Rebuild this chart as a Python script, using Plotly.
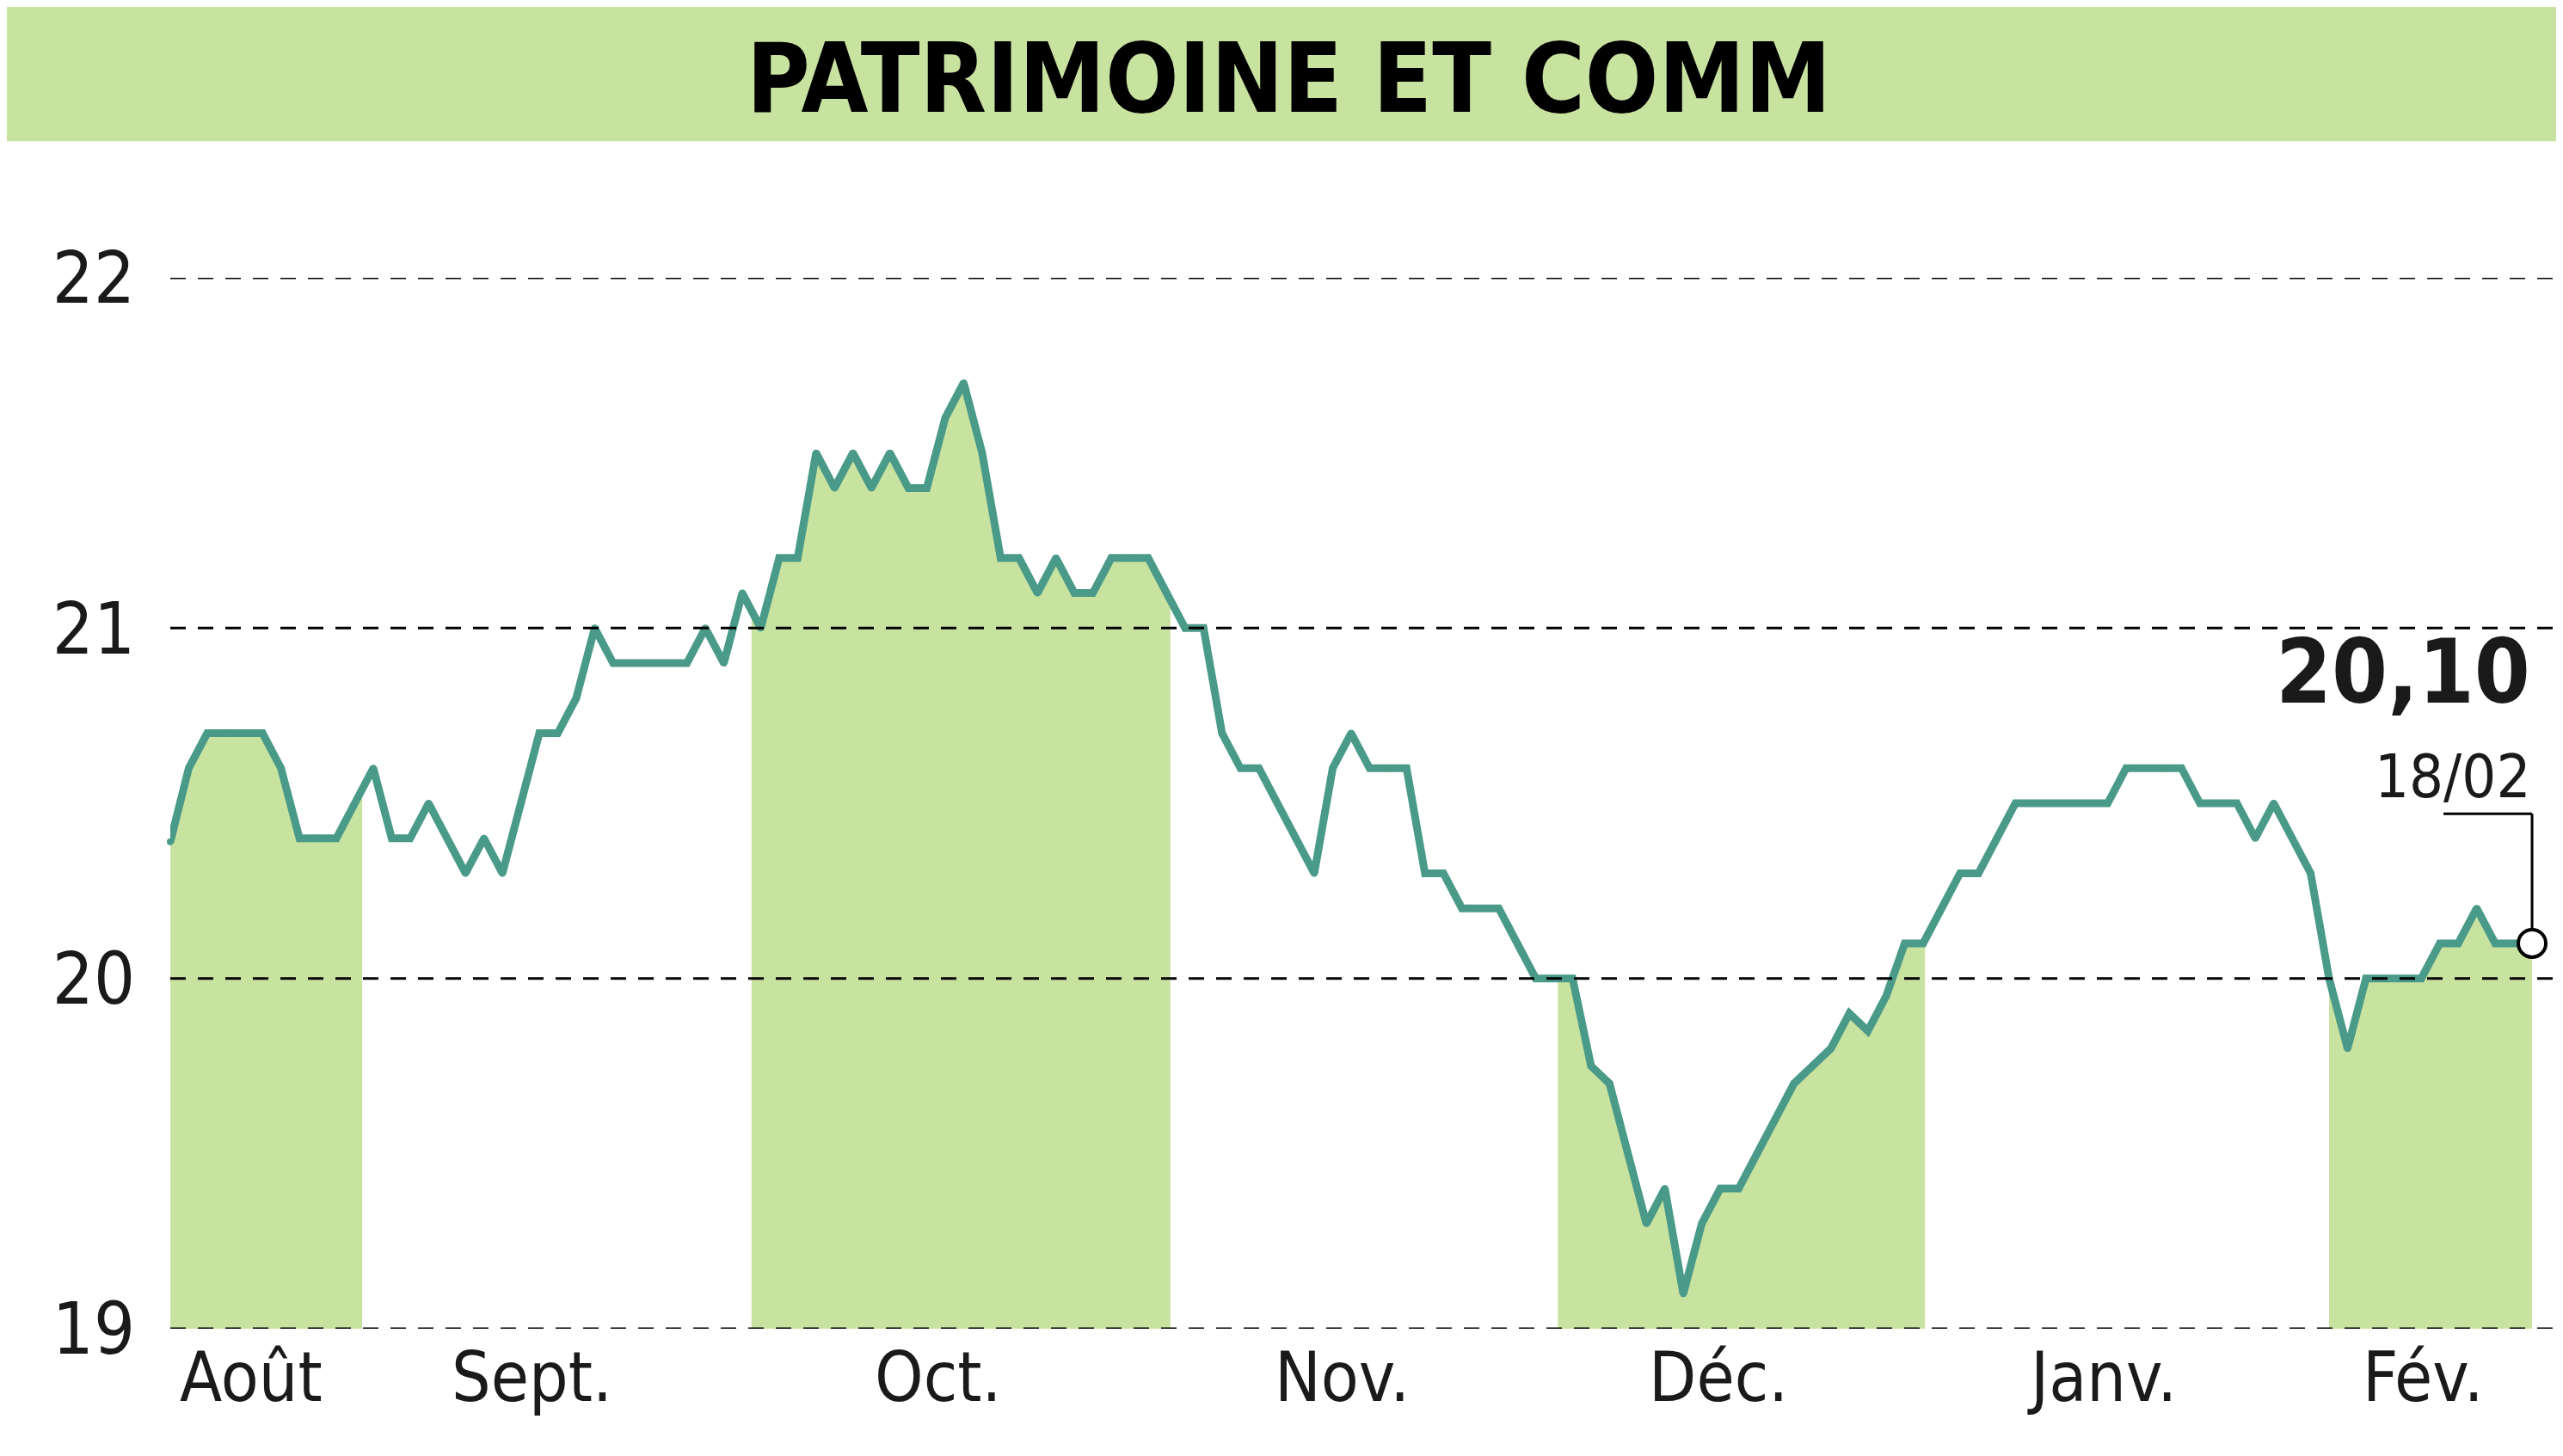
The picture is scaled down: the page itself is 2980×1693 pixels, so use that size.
import numpy as np
import plotly.graph_objects as go

title = "PATRIMOINE ET COMM"
values = [20.39,20.6,20.7,20.7,20.7,20.7,20.6,20.4,20.4,20.4,
          20.5,20.6,20.4,20.4,20.5,20.4,20.3,20.4,20.3,20.5,
          20.7,20.7,20.8,21.0,20.9,20.9,20.9,20.9,20.9,21.0,
          20.9,21.1,21.0,21.2,21.2,21.5,21.4,21.5,21.4,21.5,
          21.4,21.4,21.6,21.7,21.5,21.2,21.2,21.1,21.2,21.1,
          21.1,21.2,21.2,21.2,21.1,21.0,21.0,20.7,20.6,20.6,
          20.5,20.4,20.3,20.6,20.7,20.6,20.6,20.6,20.3,20.3,
          20.2,20.2,20.2,20.1,20.0,20.0,20.0,19.75,19.7,19.5,
          19.3,19.4,19.1,19.3,19.4,19.4,19.5,19.6,19.7,19.75,
          19.8,19.9,19.85,19.95,20.1,20.1,20.2,20.3,20.3,20.4,
          20.5,20.5,20.5,20.5,20.5,20.5,20.6,20.6,20.6,20.6,
          20.5,20.5,20.5,20.4,20.5,20.4,20.3,20.0,19.8,20.0,
          20.0,20.0,20.0,20.1,20.1,20.2,20.1,20.1,20.1]
month_labels = ["Août", "Sept.", "Oct.", "Nov.", "Déc.", "Janv.", "Fév."]
month_label_pos = [4.4, 19.6, 41.6, 63.5, 83.9, 104.7, 122.1]
month_bounds = [0, 10.4, 31.5, 54.2, 75.2, 95.1, 117.0, 128]
y_ticks = [19, 20, 21, 22]
last_label = "20,10"
last_date = "18/02"

x = np.arange(len(values))
y = np.array(values)
GREEN = "#c8e2a0"
LINE = "#4a9a8a"
FONT = "Liberation Sans Narrow, DejaVu Sans Condensed, Roboto Condensed, Arial Narrow, DejaVu Sans, sans-serif"

fig = go.Figure()
for i in range(0, len(month_bounds) - 1, 2):
    a, b = month_bounds[i], month_bounds[i + 1]
    inner = x[(x > a) & (x < b)]
    bx = np.concatenate([[a], inner, [b]])
    by = np.interp(bx, x, y)
    fig.add_trace(go.Scatter(x=bx, y=by, mode="lines", line=dict(width=0),
                             fill="tozeroy", fillcolor=GREEN, hoverinfo="skip"))

for t in y_ticks:
    fig.add_shape(type="line", xref="paper", yref="y", x0=0, x1=1, y0=t, y1=t,
                  line=dict(color="black", width=3, dash="18px,14px"))

fig.add_trace(go.Scatter(x=x, y=y, mode="lines+markers",
                         line=dict(color=LINE, width=9),
                         marker=dict(color=LINE, size=8), cliponaxis=False))
fig.add_trace(go.Scatter(x=[x[-1]], y=[y[-1]], mode="markers", cliponaxis=False,
                         marker=dict(color="white", size=32, line=dict(color="black", width=4))))

fig.add_shape(type="line", xref="x", yref="y", x0=x[-1] - 4.8, x1=x[-1], y0=20.47, y1=20.47,
              line=dict(color="black", width=3))
fig.add_shape(type="line", xref="x", yref="y", x0=x[-1], x1=x[-1], y0=20.47, y1=y[-1] + 0.04,
              line=dict(color="black", width=3))
fig.add_annotation(x=x[-1], y=20.72, text=f"<b>{last_label}</b>", showarrow=False,
                   xanchor="right", yanchor="bottom", font=dict(family=FONT, size=104, color="#1a1a1a"))
fig.add_annotation(x=x[-1], y=20.47, text=last_date, showarrow=False,
                   xanchor="right", yanchor="bottom", font=dict(family=FONT, size=70, color="#1a1a1a"))

fig.add_shape(type="rect", xref="paper", yref="paper", x0=-0.1, x1=1.0, y0=1.13, y1=1.5,
              fillcolor=GREEN, line=dict(width=0), layer="below")
fig.add_annotation(xref="paper", yref="paper", x=0.466, y=1.245, text=f"<b>{title}</b>",
                   showarrow=False, font=dict(family=FONT, size=112, color="black"))

for lab, pos in zip(month_labels, month_label_pos):
    fig.add_annotation(x=pos, y=19, yref="y", text=lab, showarrow=False, yanchor="top", yshift=-8,
                       font=dict(family=FONT, size=80, color="#1a1a1a"))

fig.update_layout(
    width=2980, height=1693, margin=dict(l=190, r=0, t=315, b=156),
    paper_bgcolor="white", plot_bgcolor="white", showlegend=False,
    xaxis=dict(range=[0, 130.05], showticklabels=False, showgrid=False, zeroline=False),
    yaxis=dict(range=[19, 22], tickvals=y_ticks, ticktext=[str(t) for t in y_ticks],
               showgrid=False, zeroline=False,
               tickfont=dict(family=FONT, size=84, color="#1a1a1a"), ticklen=0, ticks="",
               ticklabelstandoff=40),
)
fig.write_html("out.html")
